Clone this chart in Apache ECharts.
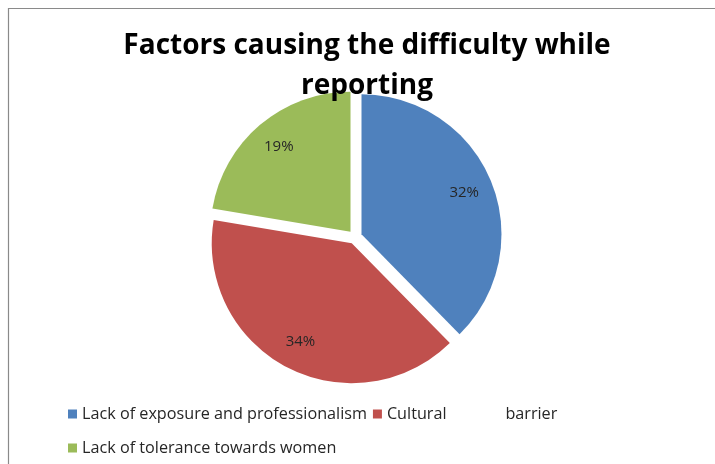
<!DOCTYPE html>
<html>
<head>
<meta charset="utf-8">
<script src="https://cdn.jsdelivr.net/npm/echarts@6/dist/echarts.min.js"></script>
<style>
html,body{margin:0;padding:0;background:#fff;}
#main{width:715px;height:464px;}
</style>
</head>
<body>
<div id="main"></div>
<script>
var titleText = 'Factors causing the difficulty while\nreporting';
var categories = ['Lack of exposure and professionalism', 'Cultural              barrier', 'Lack of tolerance towards women'];
var values = [32, 34, 19];
var colors = ['#4F81BD', '#C0504D', '#9BBB59'];

var chart = echarts.init(document.getElementById('main'), null, {renderer: 'canvas'});

var mainData = categories.map(function (c, i) {
  return {name: c, value: values[i], selected: true, itemStyle: {color: colors[i]}};
});
var labelData = categories.map(function (c, i) {
  return {name: c, value: values[i], selected: true};
});

var legendText = {fontFamily: 'Open Sans', fontSize: 16.2, color: '#262626'};

var option = {
  backgroundColor: '#ffffff',
  animation: false,
  title: {
    text: titleText,
    left: 367,
    textAlign: 'center',
    top: 26,
    padding: 0,
    textStyle: {
      fontFamily: 'Open Sans',
      fontWeight: 'bold',
      fontSize: 28,
      color: '#000000',
      lineHeight: 40
    }
  },
  graphic: [{
    type: 'rect',
    shape: {x: 8.5, y: 8.5, width: 800, height: 600},
    style: {fill: 'none', stroke: '#8a8a8a', lineWidth: 1.2},
    silent: true,
    z: -1
  }],
  legend: [{
    data: [categories[0], categories[1]],
    left: 68,
    top: 406,
    padding: 0,
    orient: 'horizontal',
    icon: 'rect',
    itemWidth: 9,
    itemHeight: 9,
    itemGap: 6,
    textStyle: legendText,
    selectedMode: false
  }, {
    data: [categories[2]],
    left: 68,
    top: 440,
    padding: 0,
    orient: 'horizontal',
    icon: 'rect',
    itemWidth: 9,
    itemHeight: 9,
    textStyle: legendText,
    selectedMode: false
  }],
  series: [{
    type: 'pie',
    center: [355, 237],
    radius: [0, 140],
    startAngle: 90,
    clockwise: true,
    selectedMode: 'multiple',
    selectedOffset: 7,
    label: {show: false},
    labelLine: {show: false},
    emphasis: {disabled: true},
    data: mainData
  }, {
    type: 'pie',
    center: [355, 237],
    radius: [76, 140],
    startAngle: 90,
    clockwise: true,
    selectedMode: 'multiple',
    selectedOffset: 7,
    silent: true,
    itemStyle: {color: 'rgba(0,0,0,0)'},
    label: {
      show: true,
      position: 'inside',
      formatter: '{c}%',
      fontFamily: 'Open Sans',
      fontSize: 15,
      color: '#262626'
    },
    labelLine: {show: false},
    emphasis: {disabled: true},
    data: labelData,
    z: 3
  }]
};
chart.setOption(option);
</script>
</body>
</html>
